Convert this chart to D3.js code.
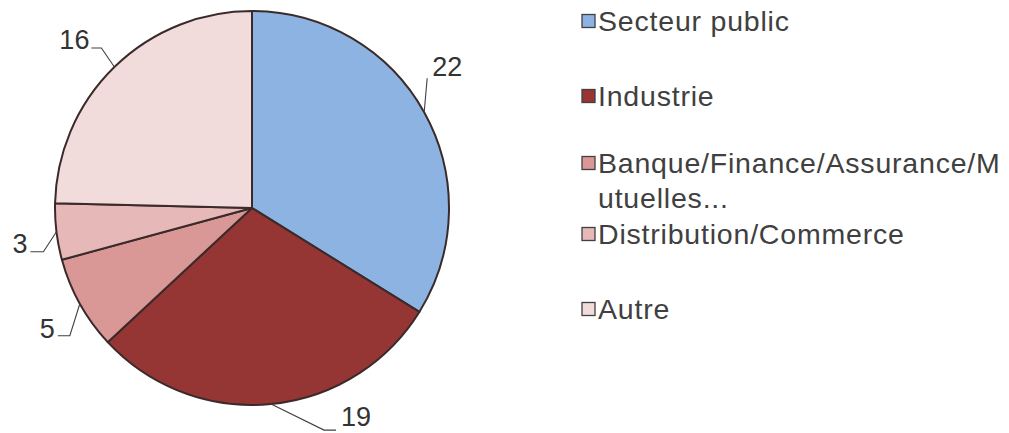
<!DOCTYPE html>
<html><head><meta charset="utf-8">
<script src="https://cdn.jsdelivr.net/npm/d3@7"></script>
<style>body{margin:0;background:#fff}svg{display:block}</style>
</head><body>
<svg id="c" width="1009" height="433"></svg>
<script>
const categories = ["Secteur public","Industrie","Banque/Finance/Assurance/Mutuelles...","Distribution/Commerce","Autre"];
const legendLines = [["Secteur public"],["Industrie"],["Banque/Finance/Assurance/M","utuelles..."],["Distribution/Commerce"],["Autre"]];
const values = [22,19,5,3,16];
const colors = ["#8db3e2","#963634","#d99795","#e6b9b8","#f2dcdb"];

// leader layout: elbow and end offsets relative to the arc point, text anchor
const leaders = [
  {e:[3,-34], f:[3,-34], t:[8,-36], anchor:"start"},
  {e:[53,26], f:[65,26], t:[70,22], anchor:"start"},
  {e:[-10,32], f:[-22,32], t:[-25,34], anchor:"end"},
  {e:[-13,20], f:[-26,20], t:[-29,21], anchor:"end"},
  {e:[-13,-19], f:[-23,-19], t:[-25,-18], anchor:"end"}
];
const legendY = [21,96,163,234,309];

const svg = d3.select("#c");
const cx = 252, cy = 208, R = 197;
const pie = d3.pie().sort(null).value(d=>d)(values);
const arc = d3.arc().innerRadius(0).outerRadius(R);
const g = svg.append("g").attr("transform",`translate(${cx},${cy})`);
g.selectAll("path").data(pie).join("path")
  .attr("d",arc).attr("fill",(d,i)=>colors[i])
  .attr("stroke","#3b2a2a").attr("stroke-width",2).attr("stroke-linejoin","round");

pie.forEach((d,i)=>{
  const a = (d.startAngle+d.endAngle)/2;
  const px = R*Math.sin(a), py = -R*Math.cos(a);
  const L = leaders[i];
  g.append("polyline")
    .attr("points",`${px},${py} ${px+L.e[0]},${py+L.e[1]} ${px+L.f[0]},${py+L.f[1]}`)
    .attr("fill","none").attr("stroke","#404040").attr("stroke-width",1.1);
  g.append("text").attr("x",px+L.t[0]).attr("y",py+L.t[1])
    .attr("text-anchor",L.anchor)
    .attr("font-family","Liberation Sans, Arial, sans-serif").attr("font-size",27)
    .attr("fill","#333").text(d.value);
});

const lg = svg.append("g");
categories.forEach((c,i)=>{
  const y = legendY[i];
  lg.append("rect").attr("x",582).attr("y",y-6.5).attr("width",13).attr("height",13)
    .attr("fill",colors[i]).attr("stroke","#404040").attr("stroke-width",1.3);
  const t = lg.append("text").attr("x",598).attr("y",y+10)
    .attr("font-family","Liberation Sans, Arial, sans-serif").attr("font-size",28.5)
    .attr("letter-spacing",0.8)
    .attr("fill","#404040");
  legendLines[i].forEach((s,j)=>{
    t.append("tspan").attr("x",598).attr("dy",j===0?0:35).text(s);
  });
});
</script>
</body></html>
